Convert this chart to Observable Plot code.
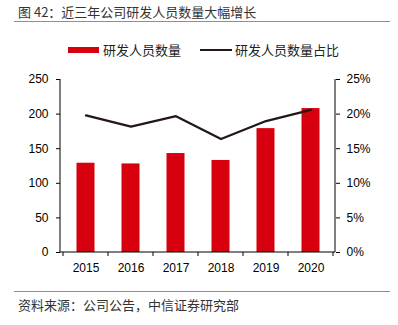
<!DOCTYPE html>
<html><head><meta charset="utf-8">
<script src="https://cdn.jsdelivr.net/npm/d3@7"></script>
<script src="https://cdn.jsdelivr.net/npm/@observablehq/plot@0.6"></script>
<style>
body{margin:0;background:#fff;font-family:"Liberation Sans","Noto Sans CJK SC",sans-serif;}
#wrap{position:relative;width:398px;height:325px;overflow:hidden;}
.t{position:absolute;white-space:nowrap;font-family:"Noto Sans CJK SC","Liberation Sans",sans-serif;}
.rule{position:absolute;left:14px;width:376px;height:1px;background:#e36b6b;}
#chart{position:absolute;left:0;top:60px;}
</style></head>
<body><div id="wrap">
<div class="t" id="title" style="left:18px;top:3px;font-size:13px;color:#333;line-height:18px;"></div>
<div class="rule" style="top:21px;"></div>
<div id="legend"></div>
<div id="chart"></div>
<div class="rule" style="top:291px;"></div>
<div class="t" id="source" style="left:18px;top:296px;font-size:13px;color:#333;line-height:18px;"></div>
</div>
<script>
const titleText = "图 42：近三年公司研发人员数量大幅增长";
const sourceText = "资料来源：公司公告，中信证券研究部";
const years = ["2015","2016","2017","2018","2019","2020"];
const staffCount = [129, 128, 143, 133, 179, 208];
const staffShare = [19.8, 18.2, 19.7, 16.4, 19.0, 20.6];
const leftTicks = [0, 50, 100, 150, 200, 250];
const rightTicks = [0, 5, 10, 15, 20, 25];
const seriesNames = ["研发人员数量", "研发人员数量占比"];
const barColor = "#d7000f";
const lineColor = "#231815";

document.getElementById("title").textContent = titleText;
document.getElementById("source").textContent = sourceText;

const legend = document.getElementById("legend");
legend.innerHTML =
  `<div style="position:absolute;left:68px;top:47px;width:31px;height:6px;background:${barColor}"></div>
   <div class="t" style="left:103px;top:41px;font-size:13px;line-height:18px;color:#222">${seriesNames[0]}</div>
   <div style="position:absolute;left:200px;top:49px;width:32px;height:2px;background:${lineColor}"></div>
   <div class="t" style="left:235px;top:41px;font-size:13px;line-height:18px;color:#222">${seriesNames[1]}</div>`;

const data = years.map((y, i) => ({year: y, count: staffCount[i], share: staffShare[i]}));
const ratio = leftTicks[leftTicks.length-1] / rightTicks[rightTicks.length-1];

function frameLines(index, scales, values, dims) {
  const {x, y} = scales;
  const g = d3.create("svg:g").attr("stroke", "#000").attr("stroke-width", 1).attr("fill", "none");
  const xl = dims.marginLeft, xr = dims.width - dims.marginRight;
  const y0 = y(0), yt = y(leftTicks[leftTicks.length-1]);
  g.append("line").attr("x1", xl).attr("x2", xl).attr("y1", yt).attr("y2", y0);
  g.append("line").attr("x1", xr).attr("x2", xr).attr("y1", yt).attr("y2", y0);
  g.append("line").attr("x1", xl).attr("x2", xr).attr("y1", y0).attr("y2", y0);
  const step = x.step ? x.step() : (xr - xl) / years.length;
  const bounds = years.map(d => x(d)).concat([x(years[years.length-1]) + step]);
  for (const b of bounds) g.append("line").attr("x1", b).attr("x2", b).attr("y1", y0).attr("y2", y0 + 4);
  return g.node();
}

const chart = Plot.plot({
  width: 398,
  height: 225,
  marginLeft: 60,
  marginRight: 63,
  marginTop: 19,
  marginBottom: 33,
  style: {fontSize: "12px", fontFamily: "Liberation Sans, Arial, sans-serif", color: "#000", background: "#fff"},
  x: {type: "band", domain: years, padding: 0},
  y: {domain: [0, 250]},
  marks: [
    Plot.barY(data, {x: "year", y: "count", fill: barColor, insetLeft: 13.5, insetRight: 13.5}),
    Plot.line(data, {x: "year", y: d => d.share * ratio, stroke: lineColor, strokeWidth: 2.3}),
    Plot.axisY({anchor: "left", ticks: leftTicks, tickSize: 4, tickPadding: 8, label: null, stroke: "#000"}),
    Plot.axisY({anchor: "right", ticks: rightTicks.map(t => t * ratio), tickFormat: d => (d / ratio) + "%", tickSize: 4, tickPadding: 7, label: null}),
    Plot.axisX({anchor: "bottom", tickSize: 0, tickPadding: 11, label: null}),
    frameLines
  ]
});
document.getElementById("chart").appendChild(chart);
</script>
</body></html>
